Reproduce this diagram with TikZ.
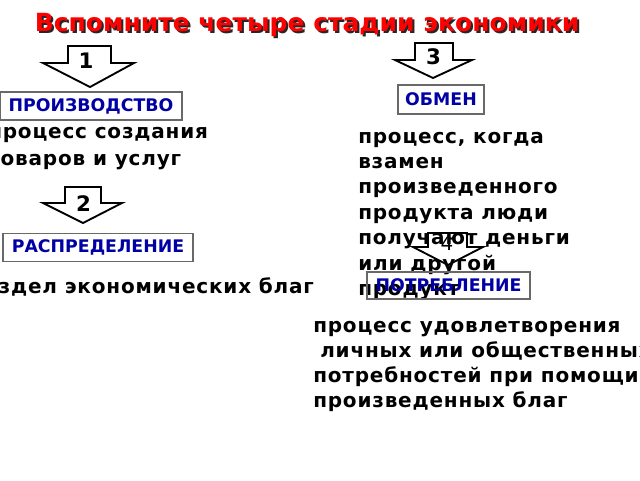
\documentclass[tikz,border=0pt]{standalone}
\usepackage{fontspec}
\setmainfont{DejaVu Sans}
\newfontfamily\bodyfont{DejaVu Sans}[LetterSpace=4]
\usetikzlibrary{positioning}
\definecolor{stageblue}{RGB}{0,0,165}
\definecolor{boxgray}{RGB}{105,105,105}
\definecolor{titlered}{RGB}{255,0,0}
\tikzset{
stagebox/.style={
	  draw=boxgray, line width=1.1pt, text=stageblue,
	    font=\fontsize{13}{15}\selectfont\bfseries, inner sep=0pt},
stageshape/.style={draw, line width=1.4pt, fill=white, line join=miter},
stagenum/.style={font=\fontsize{16}{18}\selectfont\bfseries, inner sep=0pt},
bodytext/.style={align=left, inner sep=0pt, anchor=west},
titletext/.style={font=\fontsize{18.75}{22}\selectfont\bfseries, inner sep=0pt}
}

\begin{document}
\begin{tikzpicture}[x=0.75pt, y=-0.75pt]
	\useasboundingbox (0,0) rectangle (640,480);
	\clip (0,0) rectangle (640,480);
	% title with shadow
	\node[titletext, text=black!85] (titleshadow) at (309,27) {Вспомните четыре стадии экономики};
	\node[titletext, text=titlered] (title) at (307,25) {Вспомните четыре стадии экономики};
	% stage 1
	\draw[stageshape] (68,46) -- (111,46) -- (111,63) -- (134,63) -- (90,87) -- (43,63) -- (68,63) -- cycle;
	\node[stagenum] (num1) at (86,60.5) {1};
	\node[stagebox, minimum width=182*0.75pt, minimum height=28*0.75pt] (prod) at (91,106) {ПРОИЗВОДСТВО};
	\node[bodytext, font=\bodyfont\fontsize{15}{20.25}\selectfont\bfseries] (prodtext) at (-12,149) {процесс создания\\товаров и услуг};
	% stage 2
	\draw[stageshape] (65,187) -- (101,187) -- (101,203) -- (122,203) -- (83,223) -- (43,203) -- (65,203) -- cycle;
	\node[stagenum] (num2) at (83.5,203.5) {2};
	\node[stagebox, minimum width=190*0.75pt, minimum height=28*0.75pt] (distr) at (98,247.5) {РАСПРЕДЕЛЕНИЕ};
	\node[bodytext, font=\bodyfont\fontsize{15}{20}\selectfont\bfseries] (distrtext) at (-31,288) {раздел экономических благ};
	% stage 3
	\draw[stageshape] (415,43) -- (453,43) -- (453,60) -- (472,60) -- (433,78) -- (395,60) -- (415,60) -- cycle;
	\node[stagenum] (num3) at (433.5,56.5) {3};
	\node[stagebox, minimum width=86*0.75pt, minimum height=29*0.75pt] (exch) at (441,99.5) {ОБМЕН};
	\node[bodytext, font=\bodyfont\fontsize{15}{19.1}\selectfont\bfseries] (exchtext) at (358,216)
		{процесс, когда\\взамен\\произведенного\\продукта люди\\получают деньги\\или другой\\продукт};
	% stage 4 sits over the text
	\draw[stageshape, fill=none] (428,233) -- (467,233) -- (467,247) -- (483,247) -- (448,265) -- (413,247) -- (428,247) -- cycle;
	\node[stagenum, font=\fontsize{15}{18}\selectfont] (num4) at (447,243) {4};
	\node[stagebox, minimum width=163*0.75pt, minimum height=27*0.75pt] (cons) at (448.5,285.5) {ПОТРЕБЛЕНИЕ};
	\node[bodytext, font=\bodyfont\fontsize{15}{18.75}\selectfont\bfseries] (constext) at (313,366)
		{процесс удовлетворения\\\hspace*{0.35em}личных или общественных\\потребностей при помощи\\произведенных благ};
\end{tikzpicture}
\end{document}
